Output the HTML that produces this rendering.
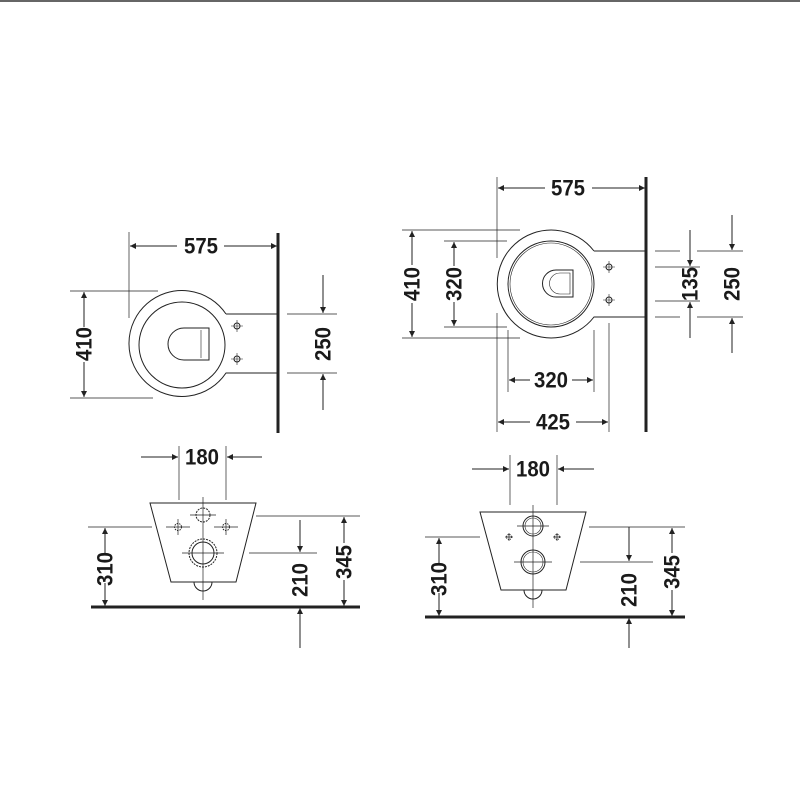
<!DOCTYPE html>
<html><head><meta charset="utf-8"><style>html,body{margin:0;padding:0;background:#fff}svg{display:block}text{font-family:"Liberation Sans",sans-serif;font-weight:bold;font-size:22px;fill:#1a1a1a}</style></head><body>
<svg width="800" height="800" viewBox="0 0 800 800" xmlns="http://www.w3.org/2000/svg">
<defs>
<marker id="a" viewBox="0 0 10 10" refX="10" refY="5" markerWidth="10" markerHeight="6" orient="auto-start-reverse" markerUnits="userSpaceOnUse"><path d="M0,0L10,5L0,10z" fill="#222"/></marker>
</defs>
<line x1="0" y1="1" x2="800" y2="1" stroke="#333" stroke-width="1.5"/>
<g stroke="#222" fill="none" stroke-width="1">
<!-- TOP LEFT -->
<line x1="278" y1="233" x2="278" y2="433" stroke-width="3"/>
<line x1="129" y1="232" x2="129" y2="318" stroke-width="0.7"/>
<line x1="130" y1="246" x2="177" y2="246" marker-start="url(#a)"/>
<line x1="224" y1="246" x2="277" y2="246" marker-end="url(#a)"/>
<path d="M226,314 A53,53 0 1 0 226,373 L277,373 M226,314 L277,314"/>
<circle cx="182" cy="345" r="43"/>
<path d="M184,328 L209,328 L209,360 L184,360 A16,16 0 0 1 184,328 Z"/>
<line x1="201" y1="330" x2="201" y2="358" stroke-width="0.6"/>
<circle cx="237" cy="326" r="3"/><path d="M237,320V332M231,326H243" stroke-width="0.6"/>
<circle cx="237" cy="359" r="3"/><path d="M237,353V365M231,359H243" stroke-width="0.6"/>
<line x1="70" y1="291" x2="158" y2="291" stroke-width="0.7"/>
<line x1="70" y1="398" x2="153" y2="398" stroke-width="0.7"/>
<line x1="84" y1="327" x2="84" y2="292" marker-end="url(#a)"/>
<line x1="84" y1="362" x2="84" y2="397" marker-end="url(#a)"/>
<line x1="287" y1="314" x2="337" y2="314" stroke-width="0.7"/>
<line x1="287" y1="373" x2="337" y2="373" stroke-width="0.7"/>
<line x1="323" y1="275" x2="323" y2="313" marker-end="url(#a)"/>
<line x1="323" y1="410" x2="323" y2="374" marker-end="url(#a)"/>
<!-- TOP RIGHT -->
<line x1="646" y1="177" x2="646" y2="432" stroke-width="3"/>
<line x1="497" y1="177" x2="497" y2="258" stroke-width="0.7"/>
<line x1="498" y1="188" x2="545" y2="188" marker-start="url(#a)"/>
<line x1="592" y1="188" x2="645" y2="188" marker-end="url(#a)"/>
<path d="M594,251 A54,54 0 1 0 594,317 L645,317 M594,251 L645,251"/>
<circle cx="551" cy="284" r="43"/>
<circle cx="551" cy="284" r="41" stroke-width="0.6"/>
<path d="M556,270 L573,270 L573,297 L556,297 A13.5,13.5 0 0 1 556,270 Z"/>
<path d="M560,273 L570,273 L570,294 L560,294 A10.5,10.5 0 0 1 560,273 Z" stroke-width="0.6"/>
<circle cx="609" cy="267" r="3"/><path d="M609,261V273M603,267H615" stroke-width="0.6"/>
<circle cx="609" cy="300" r="3"/><path d="M609,294V306M603,300H615" stroke-width="0.6"/>
<line x1="402" y1="230" x2="520" y2="230" stroke-width="0.7"/>
<line x1="402" y1="338" x2="520" y2="338" stroke-width="0.7"/>
<line x1="412" y1="265" x2="412" y2="231" marker-end="url(#a)"/>
<line x1="412" y1="303" x2="412" y2="337" marker-end="url(#a)"/>
<line x1="444" y1="241" x2="507" y2="241" stroke-width="0.7"/>
<line x1="444" y1="327" x2="507" y2="327" stroke-width="0.7"/>
<line x1="454" y1="266" x2="454" y2="242" marker-end="url(#a)"/>
<line x1="454" y1="302" x2="454" y2="326" marker-end="url(#a)"/>
<line x1="655" y1="251" x2="680" y2="251" stroke-width="0.7"/>
<line x1="655" y1="317" x2="680" y2="317" stroke-width="0.7"/>
<line x1="655" y1="267" x2="700" y2="267" stroke-width="0.7"/>
<line x1="655" y1="301" x2="700" y2="301" stroke-width="0.7"/>
<line x1="690" y1="230" x2="690" y2="266" marker-end="url(#a)"/>
<line x1="690" y1="338" x2="690" y2="302" marker-end="url(#a)"/>
<line x1="697" y1="251" x2="743" y2="251" stroke-width="0.7"/>
<line x1="697" y1="317" x2="743" y2="317" stroke-width="0.7"/>
<line x1="732" y1="215" x2="732" y2="250" marker-end="url(#a)"/>
<line x1="732" y1="353" x2="732" y2="318" marker-end="url(#a)"/>
<line x1="508" y1="330" x2="508" y2="392" stroke-width="0.7"/>
<line x1="594" y1="330" x2="594" y2="392" stroke-width="0.7"/>
<line x1="509" y1="380" x2="530" y2="380" marker-start="url(#a)"/>
<line x1="572" y1="380" x2="593" y2="380" marker-end="url(#a)"/>
<line x1="497" y1="313" x2="497" y2="432" stroke-width="0.7"/>
<line x1="609" y1="323" x2="609" y2="432" stroke-width="0.7"/>
<line x1="498" y1="422" x2="530" y2="422" marker-start="url(#a)"/>
<line x1="576" y1="422" x2="608" y2="422" marker-end="url(#a)"/>
<!-- BOTTOM LEFT -->
<line x1="179" y1="446" x2="179" y2="500" stroke-width="0.7"/>
<line x1="226" y1="446" x2="226" y2="500" stroke-width="0.7"/>
<line x1="141" y1="457" x2="178" y2="457" marker-end="url(#a)"/>
<line x1="262" y1="457" x2="227" y2="457" marker-end="url(#a)"/>
<path d="M150,503 L256,503 L236,582 L171,582 Z"/>
<path d="M194,582 A9,9 0 0 0 212,582"/>
<line x1="91" y1="607" x2="360" y2="607" stroke-width="3"/>
<line x1="88" y1="527" x2="152" y2="527" stroke-width="0.7"/>
<line x1="105" y1="555" x2="105" y2="528" marker-end="url(#a)"/>
<line x1="105" y1="583" x2="105" y2="606" marker-end="url(#a)"/>
<line x1="256" y1="516" x2="360" y2="516" stroke-width="0.7"/>
<line x1="344" y1="543" x2="344" y2="517" marker-end="url(#a)"/>
<line x1="344" y1="580" x2="344" y2="606" marker-end="url(#a)"/>
<line x1="249" y1="553" x2="317" y2="553" stroke-width="0.7"/>
<line x1="300" y1="520" x2="300" y2="552" marker-end="url(#a)"/>
<line x1="300" y1="648" x2="300" y2="608" marker-end="url(#a)"/>
<g stroke-width="0.7"><line x1="203" y1="497" x2="203" y2="600"/><line x1="190" y1="515" x2="216" y2="515"/><line x1="166" y1="527" x2="190" y2="527"/><line x1="214" y1="527" x2="238" y2="527"/><line x1="178" y1="519" x2="178" y2="535"/><line x1="226" y1="519" x2="226" y2="535"/><line x1="182" y1="553" x2="224" y2="553"/></g>
<circle cx="203" cy="515" r="7" stroke-dasharray="2,1"/>
<circle cx="178" cy="527" r="3.5" stroke-dasharray="1.5,1"/>
<circle cx="226" cy="527" r="3.5" stroke-dasharray="1.5,1"/>
<circle cx="203" cy="553" r="14" stroke-dasharray="2,1"/>
<circle cx="203" cy="553" r="11"/>
<!-- BOTTOM RIGHT -->
<line x1="510" y1="455" x2="510" y2="505" stroke-width="0.7"/>
<line x1="557" y1="455" x2="557" y2="505" stroke-width="0.7"/>
<line x1="472" y1="469" x2="509" y2="469" marker-end="url(#a)"/>
<line x1="594" y1="469" x2="558" y2="469" marker-end="url(#a)"/>
<path d="M480,512 L586,512 L566,590 L501,590 Z"/>
<path d="M524,590 A9,9 0 0 0 542,590"/>
<line x1="425" y1="617" x2="685" y2="617" stroke-width="3"/>
<line x1="425" y1="537" x2="480" y2="537" stroke-width="0.7"/>
<line x1="439" y1="565" x2="439" y2="538" marker-end="url(#a)"/>
<line x1="439" y1="593" x2="439" y2="616" marker-end="url(#a)"/>
<line x1="589" y1="527" x2="685" y2="527" stroke-width="0.7"/>
<line x1="672" y1="553" x2="672" y2="528" marker-end="url(#a)"/>
<line x1="672" y1="590" x2="672" y2="616" marker-end="url(#a)"/>
<line x1="580" y1="562" x2="653" y2="562" stroke-width="0.7"/>
<line x1="629" y1="527" x2="629" y2="561" marker-end="url(#a)"/>
<line x1="629" y1="648" x2="629" y2="618" marker-end="url(#a)"/>
<g stroke-width="0.7"><line x1="533" y1="505" x2="533" y2="608"/><line x1="517" y1="526" x2="549" y2="526"/><line x1="514" y1="562" x2="552" y2="562"/><path d="M505,537H513M509,533V541M553,537H561M557,533V541"/></g>
<circle cx="533" cy="526" r="10"/><circle cx="533" cy="526" r="8" stroke-width="0.6"/>
<circle cx="533" cy="562" r="12"/><circle cx="533" cy="562" r="10" stroke-width="0.6"/>
<circle cx="509" cy="537" r="2.5" stroke-dasharray="1,1"/>
<circle cx="557" cy="537" r="2.5" stroke-dasharray="1,1"/>
</g>
<g text-anchor="middle" dominant-baseline="central">
<text x="201" y="246" textLength="34" lengthAdjust="spacingAndGlyphs">575</text>
<text transform="translate(84,344) rotate(-90)" textLength="34" lengthAdjust="spacingAndGlyphs">410</text>
<text transform="translate(323,344) rotate(-90)" textLength="34" lengthAdjust="spacingAndGlyphs">250</text>
<text x="568" y="188" textLength="34" lengthAdjust="spacingAndGlyphs">575</text>
<text transform="translate(412,284) rotate(-90)" textLength="34" lengthAdjust="spacingAndGlyphs">410</text>
<text transform="translate(454,284) rotate(-90)" textLength="34" lengthAdjust="spacingAndGlyphs">320</text>
<text transform="translate(690,284) rotate(-90)" textLength="34" lengthAdjust="spacingAndGlyphs">135</text>
<text transform="translate(732,284) rotate(-90)" textLength="34" lengthAdjust="spacingAndGlyphs">250</text>
<text x="551" y="380" textLength="34" lengthAdjust="spacingAndGlyphs">320</text>
<text x="553" y="422" textLength="34" lengthAdjust="spacingAndGlyphs">425</text>
<text x="202" y="457" textLength="34" lengthAdjust="spacingAndGlyphs">180</text>
<text transform="translate(105,569) rotate(-90)" textLength="34" lengthAdjust="spacingAndGlyphs">310</text>
<text transform="translate(344,562) rotate(-90)" textLength="34" lengthAdjust="spacingAndGlyphs">345</text>
<text transform="translate(300,580) rotate(-90)" textLength="34" lengthAdjust="spacingAndGlyphs">210</text>
<text x="533" y="469" textLength="34" lengthAdjust="spacingAndGlyphs">180</text>
<text transform="translate(439,579) rotate(-90)" textLength="34" lengthAdjust="spacingAndGlyphs">310</text>
<text transform="translate(672,572) rotate(-90)" textLength="34" lengthAdjust="spacingAndGlyphs">345</text>
<text transform="translate(629,590) rotate(-90)" textLength="34" lengthAdjust="spacingAndGlyphs">210</text>
</g>
</svg>
</body></html>
